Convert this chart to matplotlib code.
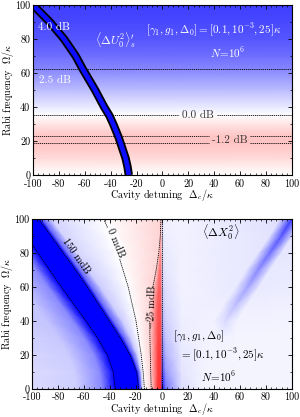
import numpy as np
import matplotlib
matplotlib.use('Agg')
from matplotlib import pyplot as plt
from matplotlib.colors import Normalize
from matplotlib.ticker import AutoMinorLocator

plt.rcParams['font.family'] = 'serif'
plt.rcParams['font.serif'] = ['cmr10', 'DejaVu Serif']
plt.rcParams['mathtext.fontset'] = 'cm'
plt.rcParams['axes.unicode_minus'] = False
plt.rcParams['axes.formatter.use_mathtext'] = True
plt.rcParams['font.size'] = 8
plt.rcParams['xtick.direction'] = 'in'
plt.rcParams['ytick.direction'] = 'in'
plt.rcParams['xtick.top'] = True
plt.rcParams['ytick.right'] = True

# ---- top panel: squeezing of U vs Rabi frequency (dB) ----
omega_top = [0, 5, 10, 15, 18.6, 20.7, 22.9, 26, 30, 35.3, 40, 50, 62.4, 70, 80, 90, 100]
db_top = [-0.05, -0.35, -0.75, -1.05, -1.2, -1.26, -1.2, -0.95, -0.55, 0.0, 0.45, 1.4, 2.5, 3.0, 3.5, 3.8, 4.0]

# optimal detuning curve
curve_omega = [100, 90, 80, 70, 62.4, 50, 40, 35, 30, 22.5, 18, 10, 5, 0]
curve_det = [-100, -87, -76, -67, -61.6, -52, -45, -41, -38, -34, -32, -28.5, -27, -26]

# dB contour segments (y, x-start, x-end)
seg_y = [62.4, 35.3, 35.3, 22.9, 22.9, 18.6, 18.6]
seg_x0 = [-100, -100, 42, -100, 68, -100, 68]
seg_x1 = [100, 13, 100, 36, 100, 36, 100]

# ---- bottom panel: <dX0^2> in mdB ----
omega_bot = [0, 10, 20, 30, 40, 50, 60, 70, 80, 90, 100]
band_left = [-36, -37.5, -42, -49.5, -58.5, -68, -77.5, -86.5, -95.5, -104.5, -113.5]
band_right = [-18, -19.5, -24.5, -32, -40.5, -49, -57.5, -66.5, -76, -85.5, -95]
halo_in = [-16.5, -18, -22.5, -29, -37.5, -46, -54.5, -63.5, -73, -82.5, -92]
halo_out = [-15, -16, -19, -24, -30.5, -39, -47.5, -56.5, -66, -75.5, -85]
zero_mdb = [-13.5, -14.5, -16, -18, -20, -23, -26, -30, -34, -39, -45]
m25_mdb = [-8.3, -8.7, -9, -9.3, -9.5, -8.5, -7, -4.5, -2.5, -1.3, -0.8]
red_peak = [-3, -3, -3, -3, -3, -3, -2.5, -2, -1.2, -0.8, -0.5]
ridge = [40, 42, 45, 47, 49, 57, 66, 74, 83, 92, 100]

v_far_left = [5] * 11
v_left_30 = [28, 28, 30, 32, 35, 35, 35, 35, 35, 35, 35]
v_left_10 = [70] * 11
v_band = [220] * 11
v_halo_in = [100, 100, 95, 90, 90, 90, 90, 90, 90, 90, 90]
v_halo_out = [30, 30, 30, 30, 30, 30, 30, 28, 25, 25, 25]
v_zero = [0] * 11
v_m25 = [-25] * 11
v_red = [-120, -118, -115, -110, -105, -100, -92, -82, -65, -50, -40]
v_blue0 = [140, 110, 80, 60, 45, 35, 28, 22, 18, 15, 12]
v_blue3 = [80, 60, 45, 35, 28, 22, 18, 15, 12, 10, 9]
v_blue15 = [20, 16, 13, 11, 10, 9, 8, 8, 8, 8, 8]
v_ridge_side = [6, 6, 6, 6, 8, 10, 12, 14, 15, 16, 18]
v_ridge = [6, 6, 6, 8, 22, 40, 55, 70, 85, 100, 115]
v_far_right = [5] * 11

fig = plt.figure(figsize=(3, 4.17), dpi=100)
ax1 = fig.add_axes([0.11, 0.580, 0.863, 0.408])
ax2 = fig.add_axes([0.107, 0.067, 0.866, 0.408])

# top panel background
db = np.array(db_top)
ax1.pcolormesh([-100, 100], omega_top, np.column_stack([db, db]), shading='gouraud',
               cmap='bwr_r', norm=Normalize(-5.3, 5.3), rasterized=True)
ax1.hlines(seg_y, seg_x0, seg_x1, colors='k', linestyles=(0, (1.5, 1)), lw=0.6)
ax1.plot(curve_det, curve_omega, color='k', lw=6, solid_capstyle='butt')
ax1.plot(curve_det, curve_omega, color=(0.05, 0.05, 1.0), lw=3.4, solid_capstyle='butt')

ax1.text(-84, 86.8, '4.0 dB', color='w', ha='center', va='center')
ax1.text(-83, 55.9, '2.5 dB', color='w', ha='center', va='center')
ax1.text(27.5, 35.3, '0.0 dB', color='0.2', ha='center', va='center')
ax1.text(52, 20.7, '-1.2 dB', color='0.2', ha='center', va='center')
ax1.text(-36, 79.5, r"$\langle\Delta U_0^2\rangle_s^{\prime}$", color='w', ha='center', va='center', fontsize=8.5)
ax1.text(39.5, 85.3, r"$[\gamma_1, g_1, \Delta_0] = [0.1, 10^{-3}, 25]\kappa$", color='w',
         ha='center', va='center', fontsize=8)
ax1.text(50.5, 72, r"$N\!=\!10^6$", color='w', ha='center', va='center', fontsize=8)

# bottom panel background on a grid following the features
bl = np.array(band_left)
rg = np.array(ridge)
cols_x = [np.full(11, -200.0), bl - 30, bl - 10, bl, np.array(band_right), np.array(halo_in),
          np.array(halo_out), np.array(zero_mdb), np.array(m25_mdb), np.array(red_peak),
          np.full(11, -0.1), np.full(11, 0.1), np.full(11, 3.0), np.full(11, 15.0),
          rg - 9, rg, rg + 9, np.full(11, 200.0)]
cols_v = [v_far_left, v_left_30, v_left_10, v_band, v_band, v_halo_in, v_halo_out, v_zero,
          v_m25, v_red, v_red, v_blue0, v_blue3, v_blue15, v_ridge_side, v_ridge,
          v_ridge_side, v_far_right]
X = np.column_stack(cols_x)
C = np.column_stack([np.array(v, float) for v in cols_v])
Y = np.repeat(np.array(omega_bot, float)[:, None], X.shape[1], axis=1)
ax2.pcolormesh(X, Y, C, shading='gouraud', cmap='bwr_r', norm=Normalize(-150, 150), rasterized=True)

dot = (0, (1.5, 1))
ax2.plot(band_left, omega_bot, color='k', ls=dot, lw=0.6)
ax2.plot(band_right, omega_bot, color='k', ls=dot, lw=0.6)
ax2.plot(zero_mdb, omega_bot, color='k', ls=dot, lw=0.6)
m25_draw = np.where(np.array(omega_bot) == 50, np.nan, np.array(m25_mdb))
ax2.plot(m25_draw, omega_bot, color='k', ls=dot, lw=0.6)
ax2.plot([-0.3] * 11, omega_bot, color='k', ls=dot, lw=0.6)

ax2.text(-66, 78, '150 mdB', rotation=-55, ha='center', va='center', fontsize=7.5)
ax2.text(-36, 86, '0 mdB', rotation=-67, ha='center', va='center', fontsize=7.5,
         bbox=dict(fc=(0.99, 0.99, 1.0), ec='none', pad=1.0))
ax2.text(-9, 48, r'$-25$ mdB', rotation=88, ha='center', va='center', fontsize=7.5)
ax2.text(45, 92, r"$\langle\Delta X_0^2\rangle$", ha='center', va='center', fontsize=8.5)
ax2.text(28, 31, r"$[\gamma_1, g_1, \Delta_0]$", ha='center', va='center', fontsize=8)
ax2.text(46, 20, r"$= [0.1, 10^{-3}, 25]\kappa$", ha='center', va='center', fontsize=8)
ax2.text(44, 7, r"$N\!=\!10^6$", ha='center', va='center', fontsize=8)

xticks = [-100, -80, -60, -40, -20, 0, 20, 40, 60, 80, 100]
yticks = [0, 20, 40, 60, 80, 100]
for ax in (ax1, ax2):
    ax.set_xlim(-100, 100)
    ax.set_ylim(0, 100)
    ax.set_xticks(xticks)
    ax.set_xticklabels([str(t) for t in xticks])
    ax.set_yticks(yticks)
    ax.set_yticklabels([str(t) for t in yticks])
    ax.xaxis.set_minor_locator(AutoMinorLocator(5))
    ax.yaxis.set_minor_locator(AutoMinorLocator(2))
    ax.tick_params(axis='x', which='major', pad=2.8)
    ax.tick_params(axis='y', which='major', pad=2)
    ax.tick_params(which='major', length=3, width=0.6, labelsize=7.3)
    ax.tick_params(which='minor', length=1.5, width=0.5)
    for s in ax.spines.values():
        s.set_linewidth(0.8)
    ax.set_xlabel(r'Cavity detuning  $\Delta_c/\kappa$', fontsize=7.3)
    ax.set_ylabel(r'Rabi frequency  $\Omega/\kappa$', fontsize=7.2)
    ax.xaxis.set_label_coords(0.5, -0.07)
    ax.yaxis.set_label_coords(-0.064, 0.5)

fig.savefig('out.png', dpi=100)
